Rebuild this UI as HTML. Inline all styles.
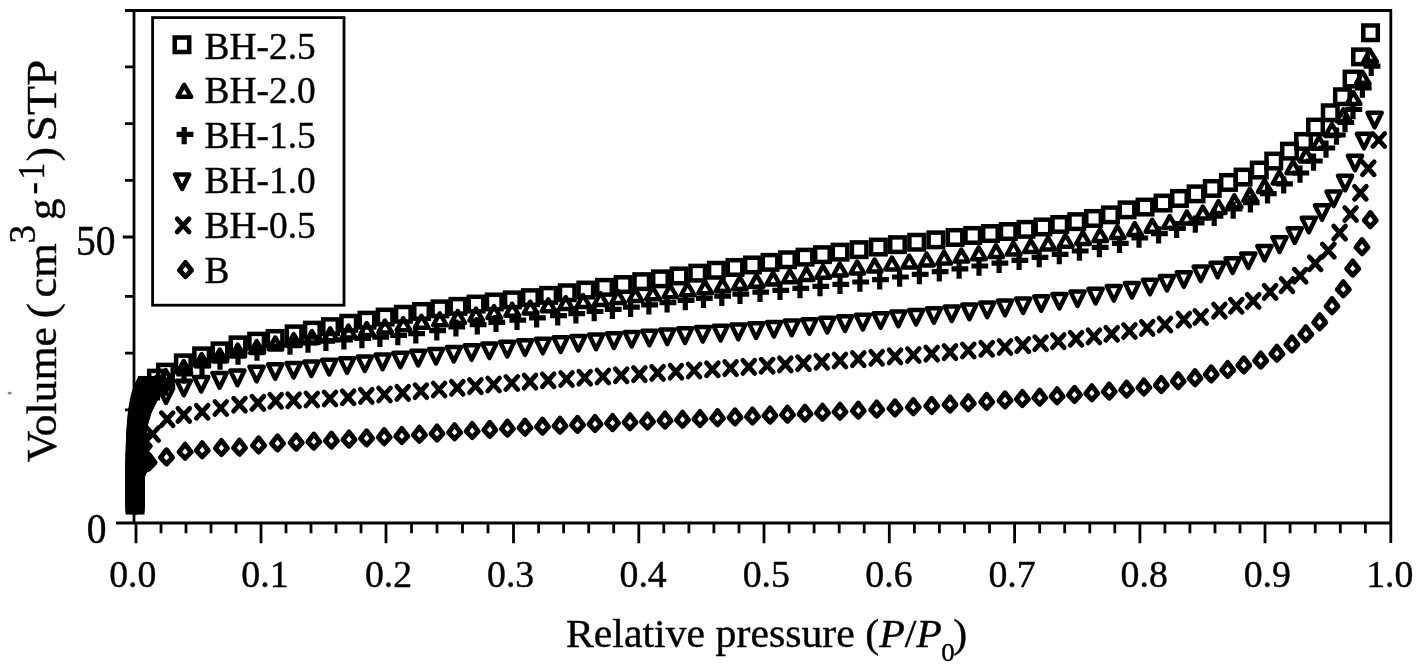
<!DOCTYPE html>
<html lang="en">
<head>
<meta charset="utf-8">
<title>Nitrogen adsorption isotherms</title>
<style>
html,body{margin:0;padding:0;background:#fff;}
body{width:1418px;height:666px;overflow:hidden;}
svg{display:block;filter:blur(0.45px);}
text{font-family:"Liberation Serif","Times New Roman",serif;fill:#000;stroke:#000;stroke-width:.4px;}
.ax{fill:none;stroke:#000;stroke-width:2.8;stroke-linecap:butt;stroke-linejoin:miter;}
.mk{fill:none;stroke:#000;stroke-width:4.5;stroke-linejoin:miter;stroke-linecap:butt;}
.mk .t,.mk.t{stroke-linejoin:round;}
.mk .p,.mk.p{stroke-width:5.2;}
.mk .c,.mk.c{stroke-width:4.8;stroke-linecap:round;}
.mk .d,.mk.d{stroke-width:5;stroke-linejoin:round;}
.lg{font-size:37.4px;}
.xt{font-size:37.8px;}
.yt{font-size:39.5px;}
.xtt{font-size:39.5px;}
.ytt{font-size:43.5px;}
</style>
</head>
<body>
<svg width="1418" height="666" viewBox="0 0 1418 666">
<rect width="1418" height="666" fill="#fff"/>
<ellipse cx="9.7" cy="393.1" rx="2.2" ry="1.3" fill="#8a8a8a"/>
<g class="ax">
<path d="M125.0 10.5H1390.8V543.0"/>
<path d="M134.0 9.10V523.0"/>
<path d="M116 523.0H1390.8"/>
<path d="M136.0 523.0V543.3M161.0 523.0V533.3M186.0 523.0V533.3M211.0 523.0V533.3M236.0 523.0V533.3M261.0 523.0V543.3M286.0 523.0V533.3M311.0 523.0V533.3M336.0 523.0V533.3M361.0 523.0V533.3M386.0 523.0V543.3M411.5 523.0V533.3M437.0 523.0V533.3M462.5 523.0V533.3M488.0 523.0V533.3M513.5 523.0V543.3M538.6 523.0V533.3M563.6 523.0V533.3M588.7 523.0V533.3M613.7 523.0V533.3M638.8 523.0V543.3M663.8 523.0V533.3M688.9 523.0V533.3M713.9 523.0V533.3M739.0 523.0V533.3M764.0 523.0V543.3M789.1 523.0V533.3M814.1 523.0V533.3M839.2 523.0V533.3M864.2 523.0V533.3M889.3 523.0V543.3M914.4 523.0V533.3M939.4 523.0V533.3M964.5 523.0V533.3M989.5 523.0V533.3M1014.6 523.0V543.3M1039.7 523.0V533.3M1064.7 523.0V533.3M1089.8 523.0V533.3M1114.8 523.0V533.3M1139.9 523.0V543.3M1164.9 523.0V533.3M1189.9 523.0V533.3M1215.0 523.0V533.3M1240.0 523.0V533.3M1265.0 523.0V543.3M1290.1 523.0V533.3M1315.2 523.0V533.3M1340.3 523.0V533.3M1365.4 523.0V533.3M125.0 66.9H134.0M125.0 123.6H134.0M125.0 180.4H134.0M122.8 237.0H134.0M125.0 296.4H134.0M125.0 353.2H134.0M125.0 409.8H134.0M125.0 466.5H134.0"/>
<rect x="152.6" y="17.6" width="191.4" height="287.6"/>
</g>
<g class="mk d"><path d="M129.0 505.6L135.0 497.8L141.0 505.6L135.0 512.0Z"/><path d="M129.0 503.4L135.0 495.6L141.0 503.4L135.0 509.8Z"/><path d="M129.0 501.2L135.0 493.4L141.0 501.2L135.0 507.6Z"/><path d="M129.1 499.0L135.1 491.2L141.1 499.0L135.1 505.4Z"/><path d="M129.1 496.8L135.1 489.0L141.1 496.8L135.1 503.2Z"/><path d="M129.1 494.6L135.1 486.8L141.1 494.6L135.1 501.0Z"/><path d="M129.2 492.4L135.2 484.6L141.2 492.4L135.2 498.8Z"/><path d="M129.3 490.2L135.3 482.4L141.3 490.2L135.3 496.6Z"/><path d="M129.3 488.0L135.3 480.2L141.3 488.0L135.3 494.4Z"/><path d="M129.4 485.8L135.4 478.0L141.4 485.8L135.4 492.2Z"/><path d="M129.6 483.6L135.6 475.8L141.6 483.6L135.6 490.0Z"/><path d="M129.9 481.4L135.9 473.6L141.9 481.4L135.9 487.8Z"/><path d="M130.2 479.2L136.2 471.4L142.2 479.2L136.2 485.6Z"/><path d="M130.7 477.0L136.7 469.2L142.7 477.0L136.7 483.4Z"/><path d="M131.2 475.0L137.2 467.2L143.2 475.0L137.2 481.4Z"/><path d="M132.0 472.9L138.0 465.1L144.0 472.9L138.0 479.3Z"/><path d="M133.0 470.9L139.0 463.1L145.0 470.9L139.0 477.3Z"/><path d="M134.2 469.0L140.2 461.2L146.2 469.0L140.2 475.4Z"/><path d="M135.5 467.3L141.5 459.5L147.5 467.3L141.5 473.7Z"/><path d="M137.2 465.8L143.2 458.0L149.2 465.8L143.2 472.2Z"/><path d="M138.9 464.5L144.9 456.7L150.9 464.5L144.9 470.9Z"/><path d="M140.8 463.4L146.8 455.6L152.8 463.4L146.8 469.8Z"/><path d="M142.8 462.5L148.8 454.7L154.8 462.5L148.8 468.9Z"/><path d="M143.0 462.4L149.0 454.6L155.0 462.4L149.0 468.8Z"/><path d="M160.5 457.6L166.5 449.8L172.5 457.6L166.5 464.0Z"/><path d="M179.1 452.0L185.1 444.2L191.1 452.0L185.1 458.4Z"/><path d="M196.2 450.5L202.2 442.7L208.2 450.5L202.2 456.9Z"/><path d="M215.4 448.2L221.4 440.4L227.4 448.2L221.4 454.6Z"/><path d="M233.5 447.9L239.5 440.1L245.5 447.9L239.5 454.3Z"/><path d="M252.6 445.6L258.6 437.8L264.6 445.6L258.6 452.0Z"/><path d="M271.5 443.6L277.5 435.8L283.5 443.6L277.5 450.0Z"/><path d="M290.2 442.8L296.2 435.0L302.2 442.8L296.2 449.2Z"/><path d="M307.8 441.9L313.8 434.1L319.8 441.9L313.8 448.3Z"/><path d="M325.4 440.9L331.4 433.1L337.4 440.9L331.4 447.3Z"/><path d="M343.0 439.8L349.0 432.0L355.0 439.8L349.0 446.2Z"/><path d="M360.6 438.6L366.6 430.8L372.6 438.6L366.6 445.0Z"/><path d="M378.2 437.4L384.2 429.6L390.2 437.4L384.2 443.8Z"/><path d="M395.8 436.2L401.8 428.4L407.8 436.2L401.8 442.6Z"/><path d="M413.4 435.0L419.4 427.2L425.4 435.0L419.4 441.4Z"/><path d="M431.0 433.7L437.0 425.9L443.0 433.7L437.0 440.1Z"/><path d="M448.6 432.5L454.6 424.7L460.6 432.5L454.6 438.9Z"/><path d="M466.2 431.2L472.2 423.4L478.2 431.2L472.2 437.6Z"/><path d="M483.8 430.1L489.8 422.3L495.8 430.1L489.8 436.5Z"/><path d="M501.4 428.9L507.4 421.1L513.4 428.9L507.4 435.3Z"/><path d="M519.0 427.9L525.0 420.1L531.0 427.9L525.0 434.3Z"/><path d="M536.5 426.9L542.5 419.1L548.5 426.9L542.5 433.3Z"/><path d="M554.0 426.0L560.0 418.2L566.0 426.0L560.0 432.4Z"/><path d="M571.5 425.1L577.5 417.3L583.5 425.1L577.5 431.5Z"/><path d="M589.0 424.2L595.0 416.4L601.0 424.2L595.0 430.6Z"/><path d="M606.5 423.3L612.5 415.5L618.5 423.3L612.5 429.7Z"/><path d="M624.0 422.5L630.0 414.7L636.0 422.5L630.0 428.9Z"/><path d="M641.5 421.7L647.5 413.9L653.5 421.7L647.5 428.1Z"/><path d="M659.0 420.8L665.0 413.0L671.0 420.8L665.0 427.2Z"/><path d="M676.5 420.0L682.5 412.2L688.5 420.0L682.5 426.4Z"/><path d="M694.0 419.2L700.0 411.4L706.0 419.2L700.0 425.6Z"/><path d="M711.5 418.4L717.5 410.6L723.5 418.4L717.5 424.8Z"/><path d="M729.0 417.6L735.0 409.8L741.0 417.6L735.0 424.0Z"/><path d="M746.5 416.7L752.5 408.9L758.5 416.7L752.5 423.1Z"/><path d="M764.0 415.8L770.0 408.0L776.0 415.8L770.0 422.2Z"/><path d="M781.5 414.9L787.5 407.1L793.5 414.9L787.5 421.3Z"/><path d="M799.0 414.0L805.0 406.2L811.0 414.0L805.0 420.4Z"/><path d="M816.5 413.0L822.5 405.2L828.5 413.0L822.5 419.4Z"/><path d="M834.0 412.0L840.0 404.2L846.0 412.0L840.0 418.4Z"/><path d="M852.3 410.9L858.3 403.1L864.3 410.9L858.3 417.3Z"/><path d="M870.7 409.8L876.7 402.0L882.7 409.8L876.7 416.2Z"/><path d="M889.0 408.6L895.0 400.8L901.0 408.6L895.0 415.0Z"/><path d="M907.3 407.4L913.3 399.6L919.3 407.4L913.3 413.8Z"/><path d="M925.7 406.1L931.7 398.3L937.7 406.1L931.7 412.5Z"/><path d="M944.0 404.8L950.0 397.0L956.0 404.8L950.0 411.2Z"/><path d="M962.3 403.5L968.3 395.7L974.3 403.5L968.3 409.9Z"/><path d="M980.7 402.1L986.7 394.3L992.7 402.1L986.7 408.5Z"/><path d="M999.0 400.6L1005.0 392.8L1011.0 400.6L1005.0 407.0Z"/><path d="M1016.4 399.2L1022.4 391.4L1028.4 399.2L1022.4 405.6Z"/><path d="M1033.7 397.9L1039.7 390.1L1045.7 397.9L1039.7 404.3Z"/><path d="M1051.1 396.5L1057.1 388.7L1063.1 396.5L1057.1 402.9Z"/><path d="M1068.5 395.1L1074.5 387.3L1080.5 395.1L1074.5 401.5Z"/><path d="M1085.8 393.5L1091.8 385.7L1097.8 393.5L1091.8 399.9Z"/><path d="M1103.2 391.8L1109.2 384.0L1115.2 391.8L1109.2 398.2Z"/><path d="M1120.6 389.9L1126.6 382.1L1132.6 389.9L1126.6 396.3Z"/><path d="M1137.9 387.7L1143.9 379.9L1149.9 387.7L1143.9 394.1Z"/><path d="M1155.3 385.2L1161.3 377.4L1167.3 385.2L1161.3 391.6Z"/><path d="M1172.2 381.4L1178.2 373.6L1184.2 381.4L1178.2 387.8Z"/><path d="M1189.0 378.4L1195.0 370.6L1201.0 378.4L1195.0 384.8Z"/><path d="M1205.2 374.6L1211.2 366.8L1217.2 374.6L1211.2 381.0Z"/><path d="M1221.7 370.2L1227.7 362.4L1233.7 370.2L1227.7 376.6Z"/><path d="M1237.8 365.6L1243.8 357.8L1249.8 365.6L1243.8 372.0Z"/><path d="M1254.7 360.8L1260.7 353.0L1266.7 360.8L1260.7 367.2Z"/><path d="M1270.9 354.0L1276.9 346.2L1282.9 354.0L1276.9 360.4Z"/><path d="M1285.9 344.6L1291.9 336.8L1297.9 344.6L1291.9 351.0Z"/><path d="M1299.8 334.5L1305.8 326.7L1311.8 334.5L1305.8 340.9Z"/><path d="M1313.7 322.5L1319.7 314.7L1325.7 322.5L1319.7 328.9Z"/><path d="M1326.0 306.4L1332.0 298.6L1338.0 306.4L1332.0 312.8Z"/><path d="M1337.3 289.5L1343.3 281.7L1349.3 289.5L1343.3 295.9Z"/><path d="M1346.7 268.8L1352.7 261.0L1358.7 268.8L1352.7 275.2Z"/><path d="M1356.0 247.4L1362.0 239.6L1368.0 247.4L1362.0 253.8Z"/><path d="M1364.3 220.4L1370.3 212.6L1376.3 220.4L1370.3 226.8Z"/></g>
<g class="mk c"><path d="M129.1 498.5L140.9 511.5M129.1 511.5L140.9 498.5"/><path d="M129.1 496.3L140.9 509.3M129.1 509.3L140.9 496.3"/><path d="M129.1 494.1L140.9 507.1M129.1 507.1L140.9 494.1"/><path d="M129.1 491.9L140.9 504.9M129.1 504.9L140.9 491.9"/><path d="M129.1 489.7L140.9 502.7M129.1 502.7L140.9 489.7"/><path d="M129.1 487.5L140.9 500.5M129.1 500.5L140.9 487.5"/><path d="M129.2 485.3L141.0 498.3M129.2 498.3L141.0 485.3"/><path d="M129.2 483.1L141.0 496.1M129.2 496.1L141.0 483.1"/><path d="M129.2 480.9L141.0 493.9M129.2 493.9L141.0 480.9"/><path d="M129.2 478.7L141.0 491.7M129.2 491.7L141.0 478.7"/><path d="M129.3 476.5L141.1 489.5M129.3 489.5L141.1 476.5"/><path d="M129.3 474.3L141.1 487.3M129.3 487.3L141.1 474.3"/><path d="M129.4 472.1L141.2 485.1M129.4 485.1L141.2 472.1"/><path d="M129.4 469.9L141.2 482.9M129.4 482.9L141.2 469.9"/><path d="M129.4 467.7L141.2 480.7M129.4 480.7L141.2 467.7"/><path d="M129.5 465.5L141.3 478.5M129.5 478.5L141.3 465.5"/><path d="M129.6 463.3L141.4 476.3M129.6 476.3L141.4 463.3"/><path d="M129.7 461.1L141.5 474.1M129.7 474.1L141.5 461.1"/><path d="M129.9 458.9L141.7 471.9M129.9 471.9L141.7 458.9"/><path d="M130.1 456.7L141.9 469.7M130.1 469.7L141.9 456.7"/><path d="M130.4 454.5L142.2 467.5M130.4 467.5L142.2 454.5"/><path d="M130.7 452.3L142.5 465.3M130.7 465.3L142.5 452.3"/><path d="M131.0 450.2L142.8 463.2M131.0 463.2L142.8 450.2"/><path d="M131.4 448.0L143.2 461.0M131.4 461.0L143.2 448.0"/><path d="M131.9 445.9L143.7 458.9M131.9 458.9L143.7 445.9"/><path d="M132.6 443.8L144.4 456.8M132.6 456.8L144.4 443.8"/><path d="M133.4 441.7L145.2 454.7M133.4 454.7L145.2 441.7"/><path d="M134.2 439.7L146.0 452.7M134.2 452.7L146.0 439.7"/><path d="M135.2 437.8L147.0 450.8M135.2 450.8L147.0 437.8"/><path d="M136.4 435.9L148.2 448.9M136.4 448.9L148.2 435.9"/><path d="M137.7 434.1L149.5 447.1M137.7 447.1L149.5 434.1"/><path d="M138.6 433.0L150.4 446.0M138.6 446.0L150.4 433.0"/><path d="M146.8 427.5L158.6 440.5M146.8 440.5L158.6 427.5"/><path d="M161.3 412.7L173.1 425.7M161.3 425.7L173.1 412.7"/><path d="M177.9 408.4L189.7 421.4M177.9 421.4L189.7 408.4"/><path d="M196.3 405.3L208.1 418.3M196.3 418.3L208.1 405.3"/><path d="M214.9 401.5L226.7 414.5M214.9 414.5L226.7 401.5"/><path d="M233.6 398.2L245.4 411.2M233.6 411.2L245.4 398.2"/><path d="M252.0 396.4L263.8 409.4M252.0 409.4L263.8 396.4"/><path d="M269.8 394.3L281.6 407.3M269.8 407.3L281.6 394.3"/><path d="M287.7 393.8L299.5 406.8M287.7 406.8L299.5 393.8"/><path d="M305.9 393.0L317.7 406.0M305.9 406.0L317.7 393.0"/><path d="M324.1 392.0L335.9 405.0M324.1 405.0L335.9 392.0"/><path d="M342.3 390.8L354.1 403.8M342.3 403.8L354.1 390.8"/><path d="M360.4 389.4L372.2 402.4M360.4 402.4L372.2 389.4"/><path d="M378.6 388.0L390.4 401.0M378.6 401.0L390.4 388.0"/><path d="M396.8 386.4L408.6 399.4M396.8 399.4L408.6 386.4"/><path d="M415.0 384.7L426.8 397.7M415.0 397.7L426.8 384.7"/><path d="M433.2 383.0L445.0 396.0M433.2 396.0L445.0 383.0"/><path d="M451.4 381.3L463.2 394.3M451.4 394.3L463.2 381.3"/><path d="M469.5 379.6L481.3 392.6M469.5 392.6L481.3 379.6"/><path d="M487.7 378.0L499.5 391.0M487.7 391.0L499.5 378.0"/><path d="M505.9 376.5L517.7 389.5M505.9 389.5L517.7 376.5"/><path d="M524.1 375.1L535.9 388.1M524.1 388.1L535.9 375.1"/><path d="M542.3 373.8L554.1 386.8M542.3 386.8L554.1 373.8"/><path d="M560.6 372.5L572.4 385.5M560.6 385.5L572.4 372.5"/><path d="M578.8 371.2L590.6 384.2M578.8 384.2L590.6 371.2"/><path d="M597.0 370.0L608.8 383.0M597.0 383.0L608.8 370.0"/><path d="M615.3 368.8L627.1 381.8M615.3 381.8L627.1 368.8"/><path d="M633.5 367.6L645.3 380.6M633.5 380.6L645.3 367.6"/><path d="M651.7 366.4L663.5 379.4M651.7 379.4L663.5 366.4"/><path d="M670.0 365.2L681.8 378.2M670.0 378.2L681.8 365.2"/><path d="M688.2 364.0L700.0 377.0M688.2 377.0L700.0 364.0"/><path d="M706.5 362.8L718.3 375.8M706.5 375.8L718.3 362.8"/><path d="M724.7 361.6L736.5 374.6M724.7 374.6L736.5 361.6"/><path d="M742.9 360.4L754.7 373.4M742.9 373.4L754.7 360.4"/><path d="M761.2 359.2L773.0 372.2M761.2 372.2L773.0 359.2"/><path d="M779.4 357.9L791.2 370.9M779.4 370.9L791.2 357.9"/><path d="M797.6 356.7L809.4 369.7M797.6 369.7L809.4 356.7"/><path d="M815.9 355.3L827.7 368.3M815.9 368.3L827.7 355.3"/><path d="M834.1 354.0L845.9 367.0M834.1 367.0L845.9 354.0"/><path d="M852.4 352.6L864.2 365.6M852.4 365.6L864.2 352.6"/><path d="M870.8 351.3L882.6 364.3M870.8 364.3L882.6 351.3"/><path d="M889.1 349.9L900.9 362.9M889.1 362.9L900.9 349.9"/><path d="M907.4 348.5L919.2 361.5M907.4 361.5L919.2 348.5"/><path d="M925.8 347.1L937.6 360.1M925.8 360.1L937.6 347.1"/><path d="M944.1 345.6L955.9 358.6M944.1 358.6L955.9 345.6"/><path d="M962.4 344.0L974.2 357.0M962.4 357.0L974.2 344.0"/><path d="M980.8 342.3L992.6 355.3M980.8 355.3L992.6 342.3"/><path d="M999.1 340.5L1010.9 353.5M999.1 353.5L1010.9 340.5"/><path d="M1016.9 338.6L1028.7 351.6M1016.9 351.6L1028.7 338.6"/><path d="M1034.7 336.7L1046.5 349.7M1034.7 349.7L1046.5 336.7"/><path d="M1052.4 334.6L1064.2 347.6M1052.4 347.6L1064.2 334.6"/><path d="M1070.2 332.3L1082.0 345.3M1070.2 345.3L1082.0 332.3"/><path d="M1088.0 329.9L1099.8 342.9M1088.0 342.9L1099.8 329.9"/><path d="M1105.8 327.3L1117.6 340.3M1105.8 340.3L1117.6 327.3"/><path d="M1123.5 324.5L1135.3 337.5M1123.5 337.5L1135.3 324.5"/><path d="M1141.3 321.4L1153.1 334.4M1141.3 334.4L1153.1 321.4"/><path d="M1159.1 318.0L1170.9 331.0M1159.1 331.0L1170.9 318.0"/><path d="M1177.9 313.1L1189.7 326.1M1177.9 326.1L1189.7 313.1"/><path d="M1194.8 310.5L1206.6 323.5M1194.8 323.5L1206.6 310.5"/><path d="M1213.5 304.1L1225.3 317.1M1213.5 317.1L1225.3 304.1"/><path d="M1230.4 299.3L1242.2 312.3M1230.4 312.3L1242.2 299.3"/><path d="M1247.3 294.4L1259.1 307.4M1247.3 307.4L1259.1 294.4"/><path d="M1264.2 285.4L1276.0 298.4M1264.2 298.4L1276.0 285.4"/><path d="M1281.1 278.6L1292.9 291.6M1281.1 291.6L1292.9 278.6"/><path d="M1294.3 269.2L1306.1 282.2M1294.3 282.2L1306.1 269.2"/><path d="M1309.3 256.8L1321.1 269.8M1309.3 269.8L1321.1 256.8"/><path d="M1322.4 244.1L1334.2 257.1M1322.4 257.1L1334.2 244.1"/><path d="M1333.7 226.1L1345.5 239.1M1333.7 239.1L1345.5 226.1"/><path d="M1344.7 207.5L1356.5 220.5M1344.7 220.5L1356.5 207.5"/><path d="M1354.5 186.3L1366.3 199.3M1354.5 199.3L1366.3 186.3"/><path d="M1362.4 161.8L1374.2 174.8M1362.4 174.8L1374.2 161.8"/><path d="M1372.9 133.5L1384.7 146.5M1372.9 146.5L1384.7 133.5"/></g>
<g class="mk t"><path d="M127.9 497.7H142.1L135.0 512.3Z"/><path d="M127.9 495.5H142.1L135.0 510.1Z"/><path d="M127.9 493.3H142.1L135.0 507.9Z"/><path d="M127.9 491.1H142.1L135.0 505.7Z"/><path d="M127.9 488.9H142.1L135.0 503.5Z"/><path d="M127.9 486.7H142.1L135.0 501.3Z"/><path d="M127.9 484.5H142.1L135.0 499.1Z"/><path d="M127.9 482.3H142.1L135.0 496.9Z"/><path d="M128.0 480.1H142.2L135.1 494.7Z"/><path d="M128.0 477.9H142.2L135.1 492.5Z"/><path d="M128.0 475.7H142.2L135.1 490.3Z"/><path d="M128.0 473.5H142.2L135.1 488.1Z"/><path d="M128.0 471.3H142.2L135.1 485.9Z"/><path d="M128.1 469.1H142.3L135.2 483.7Z"/><path d="M128.1 466.9H142.3L135.2 481.5Z"/><path d="M128.1 464.7H142.3L135.2 479.3Z"/><path d="M128.1 462.5H142.3L135.2 477.1Z"/><path d="M128.2 460.3H142.4L135.3 474.9Z"/><path d="M128.2 458.1H142.4L135.3 472.7Z"/><path d="M128.2 455.9H142.4L135.3 470.5Z"/><path d="M128.3 453.7H142.5L135.4 468.3Z"/><path d="M128.3 451.5H142.5L135.4 466.1Z"/><path d="M128.4 449.3H142.6L135.5 463.9Z"/><path d="M128.5 447.1H142.7L135.6 461.7Z"/><path d="M128.6 444.9H142.8L135.7 459.5Z"/><path d="M128.8 442.7H143.0L135.9 457.3Z"/><path d="M129.0 440.5H143.2L136.1 455.1Z"/><path d="M129.2 438.3H143.4L136.3 452.9Z"/><path d="M129.5 436.1H143.7L136.6 450.7Z"/><path d="M129.7 433.9H143.9L136.8 448.5Z"/><path d="M130.0 431.8H144.2L137.1 446.4Z"/><path d="M130.4 429.6H144.6L137.5 444.2Z"/><path d="M130.9 427.5H145.1L138.0 442.1Z"/><path d="M131.4 425.3H145.6L138.5 439.9Z"/><path d="M132.0 423.2H146.2L139.1 437.8Z"/><path d="M132.6 421.1H146.8L139.7 435.7Z"/><path d="M133.2 419.0H147.4L140.3 433.6Z"/><path d="M133.9 416.9H148.1L141.0 431.5Z"/><path d="M134.5 414.7H148.7L141.6 429.3Z"/><path d="M135.1 412.6H149.3L142.2 427.2Z"/><path d="M135.8 410.5H150.0L142.9 425.1Z"/><path d="M136.6 408.4H150.8L143.7 423.0Z"/><path d="M137.3 406.4H151.5L144.4 421.0Z"/><path d="M138.2 404.4H152.4L145.3 419.0Z"/><path d="M139.1 402.4H153.3L146.2 417.0Z"/><path d="M140.1 400.4H154.3L147.2 415.0Z"/><path d="M141.2 398.5H155.4L148.3 413.1Z"/><path d="M142.4 396.7H156.6L149.5 411.3Z"/><path d="M143.4 395.2H157.6L150.5 409.8Z"/><path d="M158.9 388.4H173.1L166.0 403.0Z"/><path d="M176.7 380.7H190.9L183.8 395.3Z"/><path d="M194.1 377.0H208.3L201.2 391.6Z"/><path d="M212.5 373.1H226.7L219.6 387.7Z"/><path d="M230.3 370.6H244.5L237.4 385.2Z"/><path d="M249.5 366.7H263.7L256.6 381.3Z"/><path d="M268.1 364.2H282.3L275.2 378.8Z"/><path d="M286.5 362.9H300.7L293.6 377.5Z"/><path d="M304.3 361.4H318.5L311.4 376.0Z"/><path d="M322.1 359.8H336.3L329.2 374.4Z"/><path d="M339.9 358.2H354.1L347.0 372.8Z"/><path d="M357.7 356.4H371.9L364.8 371.0Z"/><path d="M375.5 354.6H389.7L382.6 369.2Z"/><path d="M393.3 352.7H407.5L400.4 367.3Z"/><path d="M411.1 350.8H425.3L418.2 365.4Z"/><path d="M428.9 348.9H443.1L436.0 363.5Z"/><path d="M446.7 347.0H460.9L453.8 361.6Z"/><path d="M464.5 345.2H478.7L471.6 359.8Z"/><path d="M482.3 343.5H496.5L489.4 358.1Z"/><path d="M500.1 341.8H514.3L507.2 356.4Z"/><path d="M517.9 340.2H532.1L525.0 354.8Z"/><path d="M535.7 338.7H549.9L542.8 353.3Z"/><path d="M553.5 337.3H567.7L560.6 351.9Z"/><path d="M571.2 335.9H585.4L578.3 350.5Z"/><path d="M589.0 334.6H603.2L596.1 349.2Z"/><path d="M606.8 333.3H621.0L613.9 347.9Z"/><path d="M624.6 332.0H638.8L631.7 346.6Z"/><path d="M642.3 330.7H656.5L649.4 345.3Z"/><path d="M660.1 329.5H674.3L667.2 344.1Z"/><path d="M677.9 328.3H692.1L685.0 342.9Z"/><path d="M695.7 327.0H709.9L702.8 341.6Z"/><path d="M713.5 325.8H727.7L720.6 340.4Z"/><path d="M731.2 324.6H745.4L738.3 339.2Z"/><path d="M749.0 323.3H763.2L756.1 337.9Z"/><path d="M766.8 322.0H781.0L773.9 336.6Z"/><path d="M784.6 320.6H798.8L791.7 335.2Z"/><path d="M802.3 319.2H816.5L809.4 333.8Z"/><path d="M820.1 317.8H834.3L827.2 332.4Z"/><path d="M837.9 316.3H852.1L845.0 330.9Z"/><path d="M855.7 314.8H869.9L862.8 329.4Z"/><path d="M873.5 313.2H887.7L880.6 327.8Z"/><path d="M891.2 311.6H905.4L898.3 326.2Z"/><path d="M909.0 309.9H923.2L916.1 324.5Z"/><path d="M926.8 308.2H941.0L933.9 322.8Z"/><path d="M944.6 306.4H958.8L951.7 321.0Z"/><path d="M962.3 304.6H976.5L969.4 319.2Z"/><path d="M980.1 302.6H994.3L987.2 317.2Z"/><path d="M997.9 300.6H1012.1L1005.0 315.2Z"/><path d="M1016.0 298.4H1030.2L1023.1 313.0Z"/><path d="M1034.2 296.2H1048.3L1041.2 310.8Z"/><path d="M1052.3 293.9H1066.5L1059.4 308.5Z"/><path d="M1070.4 291.4H1084.6L1077.5 306.0Z"/><path d="M1088.5 288.8H1102.7L1095.6 303.4Z"/><path d="M1106.7 286.0H1120.8L1113.8 300.6Z"/><path d="M1124.8 283.0H1139.0L1131.9 297.6Z"/><path d="M1142.9 279.7H1157.1L1150.0 294.3Z"/><path d="M1159.8 275.9H1174.0L1166.9 290.5Z"/><path d="M1176.7 272.2H1190.9L1183.8 286.8Z"/><path d="M1193.6 266.5H1207.8L1200.7 281.1Z"/><path d="M1210.5 262.7H1224.7L1217.6 277.3Z"/><path d="M1225.5 258.3H1239.7L1232.6 272.9Z"/><path d="M1241.2 253.4H1255.4L1248.3 268.0Z"/><path d="M1257.4 245.9H1271.6L1264.5 260.5Z"/><path d="M1272.4 237.3H1286.6L1279.5 251.9Z"/><path d="M1287.6 228.3H1301.8L1294.7 242.9Z"/><path d="M1301.7 217.7H1315.9L1308.8 232.3Z"/><path d="M1314.9 205.2H1329.1L1322.0 219.8Z"/><path d="M1326.5 191.5H1340.7L1333.6 206.1Z"/><path d="M1338.0 175.7H1352.2L1345.1 190.3Z"/><path d="M1347.9 155.7H1362.1L1355.0 170.3Z"/><path d="M1356.9 133.7H1371.1L1364.0 148.3Z"/><path d="M1367.5 112.7H1381.7L1374.6 127.3Z"/></g>
<g class="mk p"><path d="M127.4 505.0H144.2M135.0 497.6V514.8"/><path d="M127.4 502.8H144.2M135.0 495.4V512.6"/><path d="M127.4 500.6H144.2M135.0 493.2V510.4"/><path d="M127.4 498.4H144.2M135.0 491.0V508.2"/><path d="M127.4 496.2H144.2M135.0 488.8V506.0"/><path d="M127.4 494.0H144.2M135.0 486.6V503.8"/><path d="M127.4 491.8H144.2M135.0 484.4V501.6"/><path d="M127.4 489.6H144.2M135.0 482.2V499.4"/><path d="M127.5 487.4H144.3M135.1 480.0V497.2"/><path d="M127.5 485.2H144.3M135.1 477.8V495.0"/><path d="M127.5 483.0H144.3M135.1 475.6V492.8"/><path d="M127.5 480.8H144.3M135.1 473.4V490.6"/><path d="M127.5 478.6H144.3M135.1 471.2V488.4"/><path d="M127.5 476.4H144.3M135.1 469.0V486.2"/><path d="M127.6 474.2H144.4M135.2 466.8V484.0"/><path d="M127.6 472.0H144.4M135.2 464.6V481.8"/><path d="M127.6 469.8H144.4M135.2 462.4V479.6"/><path d="M127.6 467.6H144.4M135.2 460.2V477.4"/><path d="M127.7 465.4H144.5M135.3 458.0V475.2"/><path d="M127.7 463.2H144.5M135.3 455.8V473.0"/><path d="M127.7 461.0H144.5M135.3 453.6V470.8"/><path d="M127.8 458.8H144.6M135.4 451.4V468.6"/><path d="M127.8 456.6H144.6M135.4 449.2V466.4"/><path d="M127.8 454.4H144.6M135.4 447.0V464.2"/><path d="M127.9 452.2H144.7M135.5 444.8V462.0"/><path d="M128.0 450.0H144.8M135.6 442.6V459.8"/><path d="M128.1 447.8H144.9M135.7 440.4V457.6"/><path d="M128.2 445.6H145.0M135.8 438.2V455.4"/><path d="M128.4 443.4H145.2M136.0 436.0V453.2"/><path d="M128.6 441.2H145.4M136.2 433.8V451.0"/><path d="M128.7 439.0H145.5M136.3 431.6V448.8"/><path d="M128.9 436.8H145.7M136.5 429.4V446.6"/><path d="M129.1 434.6H145.9M136.7 427.2V444.4"/><path d="M129.4 432.5H146.2M137.0 425.1V442.3"/><path d="M129.6 430.3H146.4M137.2 422.9V440.1"/><path d="M129.9 428.1H146.7M137.5 420.7V437.9"/><path d="M130.2 425.9H147.0M137.8 418.5V435.7"/><path d="M130.5 423.7H147.3M138.1 416.3V433.5"/><path d="M130.9 421.5H147.7M138.5 414.1V431.3"/><path d="M131.4 419.4H148.2M139.0 412.0V429.2"/><path d="M131.9 417.2H148.7M139.5 409.8V427.0"/><path d="M132.4 415.1H149.2M140.0 407.7V424.9"/><path d="M133.0 413.0H149.8M140.6 405.6V422.8"/><path d="M133.7 411.0H150.5M141.3 403.6V420.8"/><path d="M134.6 408.9H151.4M142.2 401.5V418.7"/><path d="M135.5 406.9H152.3M143.1 399.5V416.7"/><path d="M136.5 404.9H153.3M144.1 397.5V414.7"/><path d="M137.4 402.9H154.2M145.0 395.5V412.7"/><path d="M138.5 401.0H155.3M146.1 393.6V410.8"/><path d="M139.7 399.1H156.5M147.3 391.7V408.9"/><path d="M140.9 397.3H157.7M148.5 389.9V407.1"/><path d="M141.4 396.5H158.2M149.0 389.1V406.3"/><path d="M149.9 390.6H166.7M157.5 383.2V400.4"/><path d="M158.4 386.0H175.2M166.0 378.6V395.8"/><path d="M176.4 374.0H193.2M184.0 366.6V383.8"/><path d="M194.4 366.0H211.2M202.0 358.6V375.8"/><path d="M212.4 360.0H229.2M220.0 352.6V369.8"/><path d="M230.4 355.0H247.2M238.0 347.6V364.8"/><path d="M249.4 351.0H266.2M257.0 343.6V360.8"/><path d="M282.4 345.0H299.2M290.0 337.6V354.8"/><path d="M300.4 342.9H317.2M308.0 335.5V352.7"/><path d="M318.3 341.2H335.1M325.9 333.8V351.0"/><path d="M336.3 339.8H353.1M343.9 332.4V349.6"/><path d="M354.3 338.4H371.1M361.9 331.0V348.2"/><path d="M372.3 337.1H389.1M379.9 329.7V346.9"/><path d="M390.2 335.5H407.0M397.8 328.1V345.3"/><path d="M408.2 333.6H425.0M415.8 326.2V343.4"/><path d="M429.2 330.6H446.0M436.8 323.2V340.4"/><path d="M448.3 326.8H465.1M455.9 319.4V336.6"/><path d="M469.7 324.6H486.5M477.3 317.2V334.4"/><path d="M488.4 322.3H505.2M496.0 314.9V332.1"/><path d="M509.4 320.1H526.2M517.0 312.7V329.9"/><path d="M529.0 317.8H545.8M536.6 310.4V327.6"/><path d="M550.1 315.6H566.9M557.7 308.2V325.4"/><path d="M568.3 313.6H585.1M575.9 306.2V323.4"/><path d="M586.6 311.5H603.4M594.2 304.1V321.3"/><path d="M604.8 309.3H621.6M612.4 301.9V319.1"/><path d="M623.0 307.1H639.8M630.6 299.7V316.9"/><path d="M641.2 304.8H658.1M648.9 297.4V314.6"/><path d="M659.5 302.6H676.3M667.1 295.2V312.4"/><path d="M677.7 300.4H694.5M685.3 293.0V310.2"/><path d="M695.9 298.3H712.7M703.5 290.9V308.1"/><path d="M714.2 296.2H731.0M721.8 288.8V306.0"/><path d="M732.4 294.2H749.2M740.0 286.8V304.0"/><path d="M752.4 292.2H769.2M760.0 284.8V302.0"/><path d="M772.4 290.3H789.2M780.0 282.9V300.1"/><path d="M792.4 288.4H809.2M800.0 281.0V298.2"/><path d="M812.4 286.4H829.2M820.0 279.0V296.2"/><path d="M832.4 284.3H849.2M840.0 276.9V294.1"/><path d="M852.3 282.0H869.1M859.9 274.6V291.8"/><path d="M872.1 279.6H888.9M879.7 272.2V289.4"/><path d="M892.0 277.0H908.8M899.6 269.6V286.8"/><path d="M911.8 274.4H928.6M919.4 267.0V284.2"/><path d="M931.7 271.7H948.5M939.3 264.3V281.5"/><path d="M951.5 268.9H968.3M959.1 261.5V278.7"/><path d="M971.4 266.0H988.2M979.0 258.6V275.8"/><path d="M991.5 263.1H1008.3M999.1 255.7V272.9"/><path d="M1011.5 260.3H1028.3M1019.1 252.9V270.1"/><path d="M1031.6 257.4H1048.4M1039.2 250.0V267.2"/><path d="M1051.7 254.4H1068.5M1059.3 247.0V264.2"/><path d="M1071.8 251.0H1088.6M1079.4 243.6V260.8"/><path d="M1091.8 247.4H1108.6M1099.4 240.0V257.2"/><path d="M1111.9 243.3H1128.7M1119.5 235.9V253.1"/><path d="M1131.4 238.0H1148.2M1139.0 230.6V247.8"/><path d="M1151.0 233.6H1167.8M1158.6 226.2V243.4"/><path d="M1169.0 228.3H1185.8M1176.6 220.9V238.1"/><path d="M1187.7 223.0H1204.5M1195.3 215.6V232.8"/><path d="M1206.6 216.2H1223.4M1214.2 208.8V226.0"/><path d="M1225.6 209.0H1242.4M1233.2 201.6V218.8"/><path d="M1242.8 202.7H1259.6M1250.4 195.3V212.5"/><path d="M1259.9 193.7H1276.7M1267.5 186.3V203.5"/><path d="M1276.1 183.8H1292.9M1283.7 176.4V193.6"/><path d="M1292.4 173.0H1309.2M1300.0 165.6V182.8"/><path d="M1305.9 161.0H1322.7M1313.5 153.6V170.8"/><path d="M1318.4 148.0H1335.2M1326.0 140.6V157.8"/><path d="M1328.9 135.0H1345.7M1336.5 127.6V144.8"/><path d="M1337.4 122.5H1354.2M1345.0 115.1V132.3"/><path d="M1345.4 109.5H1362.2M1353.0 102.1V119.3"/><path d="M1354.8 88.0H1371.6M1362.4 80.6V97.8"/><path d="M1363.6 66.2H1380.4M1371.2 58.8V76.0"/></g>
<g class="mk t"><path d="M128.2 511.0H141.8L134.7 499.1Z"/><path d="M128.2 508.8H141.8L134.7 496.9Z"/><path d="M128.2 506.6H141.8L134.7 494.7Z"/><path d="M128.2 504.4H141.8L134.7 492.5Z"/><path d="M128.2 502.2H141.8L134.7 490.3Z"/><path d="M128.2 500.0H141.8L134.7 488.1Z"/><path d="M128.2 497.8H141.8L134.7 485.9Z"/><path d="M128.2 495.6H141.8L134.7 483.7Z"/><path d="M128.2 493.4H141.8L134.7 481.5Z"/><path d="M128.3 491.2H141.9L134.8 479.3Z"/><path d="M128.3 489.0H141.9L134.8 477.1Z"/><path d="M128.3 486.8H141.9L134.8 474.9Z"/><path d="M128.3 484.6H141.9L134.8 472.7Z"/><path d="M128.3 482.4H141.9L134.8 470.5Z"/><path d="M128.3 480.2H141.9L134.8 468.3Z"/><path d="M128.4 478.0H142.0L134.9 466.1Z"/><path d="M128.4 475.8H142.0L134.9 463.9Z"/><path d="M128.4 473.6H142.0L134.9 461.7Z"/><path d="M128.4 471.4H142.0L134.9 459.5Z"/><path d="M128.5 469.2H142.1L135.0 457.3Z"/><path d="M128.5 467.0H142.1L135.0 455.1Z"/><path d="M128.5 464.8H142.1L135.0 452.9Z"/><path d="M128.6 462.6H142.2L135.1 450.7Z"/><path d="M128.6 460.4H142.2L135.1 448.5Z"/><path d="M128.6 458.2H142.2L135.1 446.3Z"/><path d="M128.7 456.0H142.3L135.2 444.1Z"/><path d="M128.8 453.8H142.4L135.3 441.9Z"/><path d="M128.9 451.6H142.5L135.4 439.7Z"/><path d="M129.0 449.4H142.6L135.5 437.5Z"/><path d="M129.1 447.2H142.7L135.6 435.3Z"/><path d="M129.3 445.0H142.9L135.8 433.1Z"/><path d="M129.5 442.8H143.1L136.0 430.9Z"/><path d="M129.6 440.6H143.2L136.1 428.7Z"/><path d="M129.8 438.4H143.4L136.3 426.5Z"/><path d="M130.0 436.2H143.6L136.5 424.3Z"/><path d="M130.2 434.1H143.8L136.7 422.2Z"/><path d="M130.4 431.9H144.0L136.9 420.0Z"/><path d="M130.7 429.7H144.3L137.2 417.8Z"/><path d="M130.9 427.5H144.5L137.4 415.6Z"/><path d="M131.3 425.3H144.9L137.8 413.4Z"/><path d="M131.6 423.1H145.2L138.1 411.2Z"/><path d="M132.0 420.9H145.6L138.5 409.0Z"/><path d="M132.4 418.8H146.0L138.9 406.9Z"/><path d="M132.8 416.6H146.4L139.3 404.7Z"/><path d="M133.3 414.5H146.9L139.8 402.6Z"/><path d="M133.9 412.4H147.5L140.4 400.5Z"/><path d="M134.5 410.3H148.1L141.0 398.4Z"/><path d="M135.3 408.2H148.9L141.8 396.3Z"/><path d="M136.1 406.1H149.7L142.6 394.2Z"/><path d="M136.9 404.1H150.5L143.4 392.2Z"/><path d="M137.8 402.1H151.4L144.3 390.2Z"/><path d="M138.8 400.1H152.4L145.3 388.2Z"/><path d="M139.9 398.2H153.5L146.4 386.3Z"/><path d="M141.0 396.3H154.6L147.5 384.4Z"/><path d="M141.2 396.0H154.8L147.7 384.1Z"/><path d="M150.2 388.6H163.8L156.7 376.7Z"/><path d="M159.2 382.0H172.8L165.7 370.1Z"/><path d="M177.2 373.0H190.8L183.7 361.1Z"/><path d="M195.2 366.0H208.8L201.7 354.1Z"/><path d="M213.2 361.5H226.8L219.7 349.6Z"/><path d="M231.2 356.5H244.8L237.7 344.6Z"/><path d="M250.2 353.0H263.8L256.7 341.1Z"/><path d="M268.7 349.4H282.3L275.2 337.5Z"/><path d="M287.2 346.0H300.8L293.7 334.1Z"/><path d="M305.4 343.0H319.1L311.9 331.1Z"/><path d="M323.7 340.3H337.3L330.2 328.4Z"/><path d="M341.9 337.6H355.6L348.4 325.7Z"/><path d="M360.2 335.1H373.8L366.7 323.2Z"/><path d="M378.4 332.6H392.1L384.9 320.7Z"/><path d="M396.7 330.2H410.3L403.2 318.3Z"/><path d="M414.9 327.7H428.6L421.4 315.8Z"/><path d="M433.2 325.3H446.8L439.7 313.4Z"/><path d="M451.3 322.9H464.9L457.8 311.0Z"/><path d="M469.4 320.5H483.0L475.9 308.6Z"/><path d="M487.5 318.1H501.1L494.0 306.2Z"/><path d="M505.6 315.7H519.2L512.1 303.8Z"/><path d="M523.7 313.5H537.3L530.2 301.6Z"/><path d="M541.8 311.2H555.4L548.3 299.3Z"/><path d="M559.2 309.1H572.8L565.7 297.2Z"/><path d="M576.6 307.0H590.2L583.1 295.1Z"/><path d="M594.0 305.0H607.6L600.5 293.1Z"/><path d="M611.4 303.1H625.0L617.9 291.2Z"/><path d="M628.8 301.1H642.4L635.3 289.2Z"/><path d="M646.2 299.2H659.8L652.7 287.3Z"/><path d="M663.6 297.2H677.2L670.1 285.3Z"/><path d="M681.0 295.3H694.6L687.5 283.4Z"/><path d="M698.4 293.2H712.0L704.9 281.3Z"/><path d="M715.8 291.1H729.4L722.3 279.2Z"/><path d="M733.2 289.0H746.8L739.7 277.1Z"/><path d="M749.9 286.8H763.5L756.4 274.9Z"/><path d="M766.5 284.6H780.1L773.0 272.7Z"/><path d="M783.2 282.2H796.8L789.7 270.3Z"/><path d="M799.9 279.9H813.5L806.4 268.0Z"/><path d="M816.5 277.7H830.1L823.0 265.8Z"/><path d="M833.2 275.5H846.8L839.7 263.6Z"/><path d="M850.6 273.4H864.2L857.1 261.5Z"/><path d="M868.0 271.4H881.5L874.5 259.5Z"/><path d="M885.3 269.4H898.9L891.8 257.5Z"/><path d="M902.7 267.5H916.3L909.2 255.6Z"/><path d="M920.1 265.6H933.7L926.6 253.7Z"/><path d="M937.5 263.6H951.0L944.0 251.7Z"/><path d="M954.8 261.5H968.4L961.3 249.6Z"/><path d="M972.2 259.3H985.8L978.7 247.4Z"/><path d="M989.5 257.0H1003.1L996.0 245.1Z"/><path d="M1006.9 254.5H1020.5L1013.4 242.6Z"/><path d="M1024.2 252.0H1037.8L1030.7 240.1Z"/><path d="M1041.5 249.4H1055.1L1048.0 237.5Z"/><path d="M1058.9 246.7H1072.5L1065.4 234.8Z"/><path d="M1076.2 243.9H1089.8L1082.7 232.0Z"/><path d="M1093.5 241.0H1107.1L1100.0 229.1Z"/><path d="M1110.9 238.1H1124.5L1117.4 226.2Z"/><path d="M1128.2 235.0H1141.8L1134.7 223.1Z"/><path d="M1145.7 231.7H1159.3L1152.2 219.8Z"/><path d="M1163.2 228.0H1176.8L1169.7 216.1Z"/><path d="M1180.3 223.4H1193.9L1186.8 211.5Z"/><path d="M1196.3 218.5H1209.9L1202.8 206.6Z"/><path d="M1212.0 213.0H1225.6L1218.5 201.1Z"/><path d="M1227.8 207.2H1241.4L1234.3 195.3Z"/><path d="M1243.3 200.8H1256.9L1249.8 188.9Z"/><path d="M1258.0 192.0H1271.6L1264.5 180.1Z"/><path d="M1272.8 183.6H1286.4L1279.3 171.7Z"/><path d="M1286.5 173.2H1300.1L1293.0 161.3Z"/><path d="M1299.5 161.4H1313.1L1306.0 149.5Z"/><path d="M1312.5 148.8H1326.1L1319.0 136.9Z"/><path d="M1325.3 136.0H1338.9L1331.8 124.1Z"/><path d="M1336.8 121.3H1350.4L1343.3 109.4Z"/><path d="M1346.8 104.0H1360.4L1353.3 92.1Z"/><path d="M1356.0 83.8H1369.6L1362.5 71.9Z"/><path d="M1363.4 61.8H1377.0L1369.9 49.9Z"/></g>
<g class="mk s"><rect x="127.8" y="497.8" width="14.5" height="14.5"/><rect x="127.8" y="495.5" width="14.5" height="14.5"/><rect x="127.8" y="493.3" width="14.5" height="14.5"/><rect x="127.8" y="491.1" width="14.5" height="14.5"/><rect x="127.8" y="488.9" width="14.5" height="14.5"/><rect x="127.8" y="486.7" width="14.5" height="14.5"/><rect x="127.8" y="484.5" width="14.5" height="14.5"/><rect x="127.8" y="482.3" width="14.5" height="14.5"/><rect x="127.8" y="480.1" width="14.5" height="14.5"/><rect x="127.8" y="477.9" width="14.5" height="14.5"/><rect x="127.8" y="475.7" width="14.5" height="14.5"/><rect x="127.8" y="473.5" width="14.5" height="14.5"/><rect x="127.9" y="471.3" width="14.5" height="14.5"/><rect x="127.9" y="469.1" width="14.5" height="14.5"/><rect x="127.9" y="466.9" width="14.5" height="14.5"/><rect x="127.9" y="464.7" width="14.5" height="14.5"/><rect x="127.9" y="462.5" width="14.5" height="14.5"/><rect x="128.0" y="460.3" width="14.5" height="14.5"/><rect x="128.0" y="458.1" width="14.5" height="14.5"/><rect x="128.0" y="455.9" width="14.5" height="14.5"/><rect x="128.0" y="453.7" width="14.5" height="14.5"/><rect x="128.1" y="451.5" width="14.5" height="14.5"/><rect x="128.1" y="449.3" width="14.5" height="14.5"/><rect x="128.1" y="447.1" width="14.5" height="14.5"/><rect x="128.1" y="445.0" width="14.5" height="14.5"/><rect x="128.2" y="442.8" width="14.5" height="14.5"/><rect x="128.2" y="440.6" width="14.5" height="14.5"/><rect x="128.3" y="438.4" width="14.5" height="14.5"/><rect x="128.4" y="436.2" width="14.5" height="14.5"/><rect x="128.5" y="434.0" width="14.5" height="14.5"/><rect x="128.7" y="431.8" width="14.5" height="14.5"/><rect x="128.8" y="429.6" width="14.5" height="14.5"/><rect x="129.0" y="427.4" width="14.5" height="14.5"/><rect x="129.1" y="425.2" width="14.5" height="14.5"/><rect x="129.3" y="423.0" width="14.5" height="14.5"/><rect x="129.5" y="420.8" width="14.5" height="14.5"/><rect x="129.7" y="418.6" width="14.5" height="14.5"/><rect x="129.9" y="416.4" width="14.5" height="14.5"/><rect x="130.1" y="414.2" width="14.5" height="14.5"/><rect x="130.4" y="412.0" width="14.5" height="14.5"/><rect x="130.6" y="409.8" width="14.5" height="14.5"/><rect x="130.9" y="407.6" width="14.5" height="14.5"/><rect x="131.3" y="405.5" width="14.5" height="14.5"/><rect x="131.7" y="403.3" width="14.5" height="14.5"/><rect x="132.1" y="401.1" width="14.5" height="14.5"/><rect x="132.5" y="399.0" width="14.5" height="14.5"/><rect x="133.0" y="396.9" width="14.5" height="14.5"/><rect x="133.5" y="394.7" width="14.5" height="14.5"/><rect x="134.2" y="392.6" width="14.5" height="14.5"/><rect x="134.9" y="390.5" width="14.5" height="14.5"/><rect x="135.7" y="388.5" width="14.5" height="14.5"/><rect x="136.5" y="386.4" width="14.5" height="14.5"/><rect x="137.3" y="384.4" width="14.5" height="14.5"/><rect x="138.2" y="382.4" width="14.5" height="14.5"/><rect x="139.2" y="380.4" width="14.5" height="14.5"/><rect x="140.2" y="378.4" width="14.5" height="14.5"/><rect x="140.2" y="378.2" width="14.5" height="14.5"/><rect x="149.2" y="370.9" width="14.5" height="14.5"/><rect x="158.2" y="364.9" width="14.5" height="14.5"/><rect x="176.1" y="355.6" width="14.5" height="14.5"/><rect x="194.4" y="348.6" width="14.5" height="14.5"/><rect x="212.8" y="343.6" width="14.5" height="14.5"/><rect x="230.8" y="337.6" width="14.5" height="14.5"/><rect x="249.4" y="333.9" width="14.5" height="14.5"/><rect x="267.9" y="331.2" width="14.5" height="14.5"/><rect x="286.9" y="326.6" width="14.5" height="14.5"/><rect x="305.1" y="322.9" width="14.5" height="14.5"/><rect x="323.3" y="319.4" width="14.5" height="14.5"/><rect x="341.5" y="316.0" width="14.5" height="14.5"/><rect x="359.7" y="312.9" width="14.5" height="14.5"/><rect x="377.9" y="309.8" width="14.5" height="14.5"/><rect x="396.1" y="307.0" width="14.5" height="14.5"/><rect x="414.3" y="304.2" width="14.5" height="14.5"/><rect x="432.6" y="301.6" width="14.5" height="14.5"/><rect x="450.7" y="299.1" width="14.5" height="14.5"/><rect x="468.8" y="296.8" width="14.5" height="14.5"/><rect x="487.0" y="294.7" width="14.5" height="14.5"/><rect x="505.1" y="292.6" width="14.5" height="14.5"/><rect x="523.2" y="290.4" width="14.5" height="14.5"/><rect x="541.4" y="288.1" width="14.5" height="14.5"/><rect x="560.0" y="285.5" width="14.5" height="14.5"/><rect x="578.6" y="282.8" width="14.5" height="14.5"/><rect x="597.3" y="280.1" width="14.5" height="14.5"/><rect x="615.9" y="277.3" width="14.5" height="14.5"/><rect x="634.5" y="274.4" width="14.5" height="14.5"/><rect x="653.2" y="271.6" width="14.5" height="14.5"/><rect x="671.8" y="268.7" width="14.5" height="14.5"/><rect x="690.5" y="265.9" width="14.5" height="14.5"/><rect x="709.1" y="263.0" width="14.5" height="14.5"/><rect x="727.8" y="260.2" width="14.5" height="14.5"/><rect x="745.2" y="257.7" width="14.5" height="14.5"/><rect x="762.8" y="255.1" width="14.5" height="14.5"/><rect x="780.2" y="252.5" width="14.5" height="14.5"/><rect x="797.8" y="249.9" width="14.5" height="14.5"/><rect x="815.2" y="247.4" width="14.5" height="14.5"/><rect x="832.8" y="244.9" width="14.5" height="14.5"/><rect x="851.9" y="242.4" width="14.5" height="14.5"/><rect x="871.1" y="239.8" width="14.5" height="14.5"/><rect x="890.2" y="237.4" width="14.5" height="14.5"/><rect x="909.4" y="235.0" width="14.5" height="14.5"/><rect x="928.6" y="232.6" width="14.5" height="14.5"/><rect x="947.8" y="230.2" width="14.5" height="14.5"/><rect x="965.5" y="228.2" width="14.5" height="14.5"/><rect x="983.2" y="226.3" width="14.5" height="14.5"/><rect x="1001.0" y="224.3" width="14.5" height="14.5"/><rect x="1018.8" y="222.1" width="14.5" height="14.5"/><rect x="1035.7" y="219.7" width="14.5" height="14.5"/><rect x="1052.5" y="217.2" width="14.5" height="14.5"/><rect x="1069.5" y="214.4" width="14.5" height="14.5"/><rect x="1086.3" y="211.2" width="14.5" height="14.5"/><rect x="1103.2" y="207.6" width="14.5" height="14.5"/><rect x="1119.8" y="202.6" width="14.5" height="14.5"/><rect x="1137.8" y="199.8" width="14.5" height="14.5"/><rect x="1155.8" y="195.8" width="14.5" height="14.5"/><rect x="1172.2" y="191.2" width="14.5" height="14.5"/><rect x="1188.8" y="186.6" width="14.5" height="14.5"/><rect x="1205.0" y="181.2" width="14.5" height="14.5"/><rect x="1221.2" y="175.2" width="14.5" height="14.5"/><rect x="1235.8" y="169.8" width="14.5" height="14.5"/><rect x="1252.0" y="162.8" width="14.5" height="14.5"/><rect x="1266.5" y="153.8" width="14.5" height="14.5"/><rect x="1282.2" y="143.9" width="14.5" height="14.5"/><rect x="1296.3" y="134.2" width="14.5" height="14.5"/><rect x="1308.3" y="119.8" width="14.5" height="14.5"/><rect x="1323.0" y="105.5" width="14.5" height="14.5"/><rect x="1335.2" y="89.5" width="14.5" height="14.5"/><rect x="1344.8" y="71.8" width="14.5" height="14.5"/><rect x="1353.3" y="49.6" width="14.5" height="14.5"/><rect x="1363.3" y="25.5" width="14.5" height="14.5"/></g>
<g class="mk"><rect x="174.7" y="37.5" width="14.5" height="14.5"/><path class="t" d="M177.6 96.8H191.2L184.1 84.9Z"/><path class="p" d="M176.6 134.4H193.4M184.2 127.0V144.2"/><path class="t" d="M175.0 174.4H189.2L182.1 189.0Z"/><path class="c" d="M177.2 218.9L189.0 231.9M177.2 231.9L189.0 218.9"/><path class="d" d="M179.5 270.2L185.5 262.4L191.5 270.2L185.5 276.6Z"/></g>
<g><text class="lg" x="204.6" y="58.6">BH-2.5</text><text class="lg" x="204.6" y="103.2">BH-2.0</text><text class="lg" x="204.6" y="147.8">BH-1.5</text><text class="lg" x="204.6" y="192.9">BH-1.0</text><text class="lg" x="204.6" y="237.7">BH-0.5</text><text class="lg" x="204.6" y="282.5">B</text></g>
<g><text class="xt" x="109.2" y="587.3">0.0</text><text class="xt" x="241.3" y="587.3">0.1</text><text class="xt" x="364.9" y="587.3">0.2</text><text class="xt" x="487.0" y="587.3">0.3</text><text class="xt" x="619.5" y="587.3">0.4</text><text class="xt" x="742.7" y="587.3">0.5</text><text class="xt" x="865.3" y="587.3">0.6</text><text class="xt" x="988.4" y="587.3">0.7</text><text class="xt" x="1120.6" y="587.3">0.8</text><text class="xt" x="1243.7" y="587.3">0.9</text><text class="xt" x="1366.2" y="587.3">1.0</text></g>
<g><text class="yt" transform="translate(115.4 255) scale(1 1.07)" text-anchor="end">50</text><text class="yt" transform="translate(106.4 543.4) scale(1 1.07)" text-anchor="end">0</text></g>
<text class="xtt" transform="translate(565.9 646.7) scale(1.058 1)">Relative pressure (<tspan font-style="italic">P</tspan>/<tspan font-style="italic">P</tspan><tspan font-size="25.5" dy="14.2" dx="-0.5">0</tspan><tspan dy="-14.2" dx="-1.4">)</tspan></text>
<text transform="translate(55.8 462.3) rotate(-90) scale(1.016 1)" font-size="43">Volume</text><text transform="translate(55.8 318.2) rotate(-90) scale(1.07 1)" font-size="43">(</text><text transform="translate(55.8 297.4) rotate(-90) scale(1.035 1)" font-size="43">cm</text><text transform="translate(35.2 243.4) rotate(-90) scale(1.0 1)" font-size="37">3</text><text transform="translate(55.8 220.0) rotate(-90) scale(1.0 1)" font-size="43">g</text><text transform="translate(45.3 194.6) rotate(-90) scale(1.0 1)" font-size="37">-</text><text transform="translate(44.4 179.6) rotate(-90) scale(0.9 1)" font-size="37">1</text><text transform="translate(55.8 161.4) rotate(-90) scale(1.0 1)" font-size="43">)</text><text transform="translate(55.8 141.6) rotate(-90) scale(1.11 1)" font-size="43">STP</text>
</svg>
</body>
</html>
